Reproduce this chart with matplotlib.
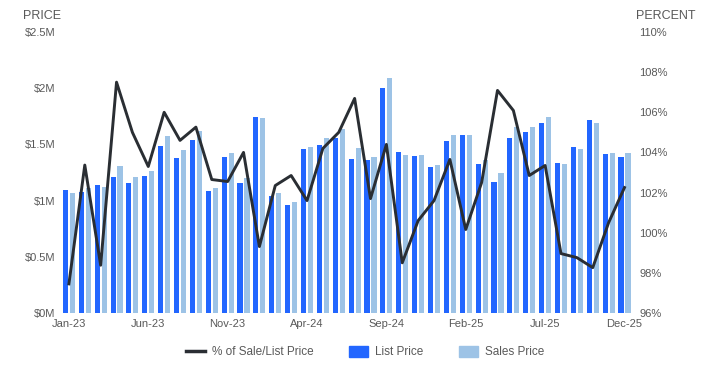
import matplotlib.pyplot as plt
from matplotlib.lines import Line2D
from matplotlib.patches import Patch
import numpy as np

plt.rcParams['font.family'] = ['Liberation Sans', 'DejaVu Sans']

months = ['Jan-23', 'Feb-23', 'Mar-23', 'Apr-23', 'May-23', 'Jun-23', 'Jul-23', 'Aug-23', 'Sep-23', 'Oct-23', 'Nov-23', 'Dec-23',
          'Jan-24', 'Feb-24', 'Mar-24', 'Apr-24', 'May-24', 'Jun-24', 'Jul-24', 'Aug-24', 'Sep-24', 'Oct-24', 'Nov-24', 'Dec-24',
          'Jan-25', 'Feb-25', 'Mar-25', 'Apr-25', 'May-25', 'Jun-25', 'Jul-25', 'Aug-25', 'Sep-25', 'Oct-25', 'Nov-25', 'Dec-25']

list_price = [1.095, 1.077, 1.139, 1.21, 1.157, 1.219, 1.485, 1.379, 1.538, 1.086, 1.388, 1.157,
              1.743, 1.041, 0.962, 1.459, 1.494, 1.556, 1.37, 1.361, 2.0, 1.432, 1.396, 1.299,
              1.53, 1.583, 1.325, 1.166, 1.556, 1.609, 1.689, 1.334, 1.476, 1.716, 1.414, 1.388]
sales_price = [1.071, 1.11, 1.121, 1.308, 1.21, 1.263, 1.574, 1.45, 1.618, 1.112, 1.423, 1.201,
               1.734, 1.068, 0.988, 1.476, 1.556, 1.636, 1.467, 1.388, 2.089, 1.405, 1.405, 1.317,
               1.583, 1.583, 1.361, 1.246, 1.654, 1.654, 1.743, 1.325, 1.459, 1.689, 1.423, 1.423]
pct_sale_list = [97.45, 103.37, 98.38, 107.5, 105.0, 103.3, 106.0, 104.6, 105.26, 102.65, 102.55, 104.0,
                 99.31, 102.35, 102.85, 101.6, 104.2, 105.0, 106.69, 101.7, 104.4, 98.5, 100.6, 101.6,
                 103.65, 100.16, 102.5, 107.09, 106.09, 102.85, 103.35, 98.96, 98.76, 98.26, 100.5, 102.25]

txt = '#595959'
list_col = '#2266ff'
sales_col = '#9dc3e6'
line_col = '#2a2e33'

fig = plt.figure(figsize=(7.09, 3.81), dpi=100)
ax = fig.add_axes([0.086, 0.1785, 0.806, 0.7375])
x = np.arange(len(months))
w = 0.32
ax.bar(x - 0.22, list_price, width=w, color=list_col, zorder=2)
ax.bar(x + 0.22, sales_price, width=w, color=sales_col, zorder=2)
ax.set_ylim(0, 2.5)
ax.set_xlim(-0.5, len(months) - 0.5)
ax.set_yticks([0, 0.5, 1, 1.5, 2, 2.5])
ax.set_yticklabels(['$0M', '$0.5M', '$1M', '$1.5M', '$2M', '$2.5M'])
ax.set_xticks(x[::5])
ax.set_xticklabels(months[::5])
ax.tick_params(length=0, labelsize=8, colors=txt, pad=4)
for s in ax.spines.values():
    s.set_visible(False)

ax2 = ax.twinx()
ax2.plot(x, pct_sale_list, color=line_col, lw=2.1, zorder=3)
ax2.set_ylim(96, 110)
ax2.set_yticks(range(96, 111, 2))
ax2.set_yticklabels([f'{v}%' for v in range(96, 111, 2)])
ax2.tick_params(length=0, labelsize=8, colors=txt, pad=5)
for s in ax2.spines.values():
    s.set_visible(False)

fig.text(23 / 709, 1 - 16 / 381, 'PRICE', fontsize=9, color=txt, va='center', ha='left')
fig.text(636 / 709, 1 - 16 / 381, 'PERCENT', fontsize=9, color=txt, va='center', ha='left')

handles = [Line2D([0], [0], color=line_col, lw=2.5),
           Patch(color=list_col), Patch(color=sales_col)]
labels = ['% of Sale/List Price', 'List Price', 'Sales Price']
fig.legend(handles, labels, loc='center', bbox_to_anchor=(365 / 709, 1 - 352 / 381), ncol=3,
           frameon=False, fontsize=8.5, labelcolor=txt, handlelength=1.6, handleheight=1.1,
           columnspacing=3.0, handletextpad=0.6)

fig.savefig('out.png', dpi=100)
